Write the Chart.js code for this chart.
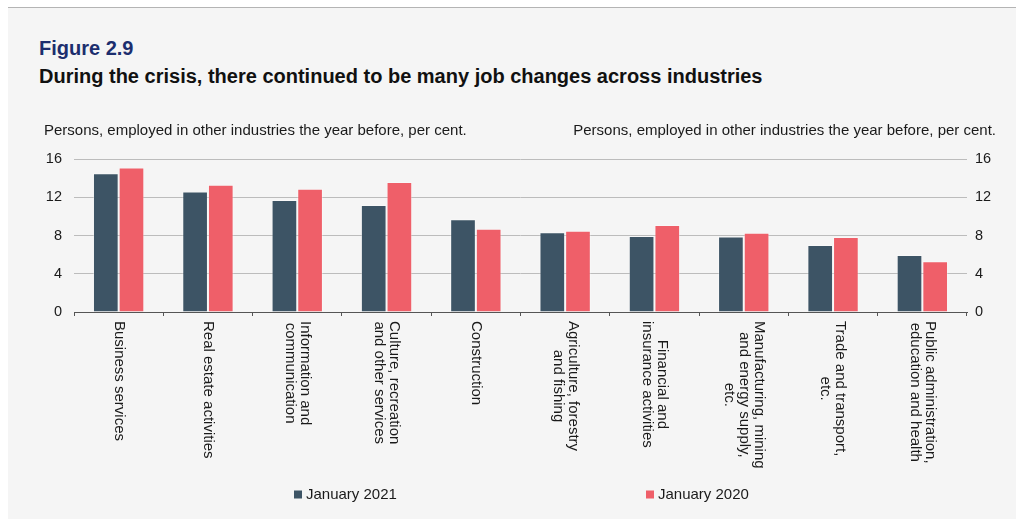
<!DOCTYPE html>
<html>
<head>
<meta charset="utf-8">
<script src="https://cdn.jsdelivr.net/npm/chart.js@4/dist/chart.umd.min.js"></script>
<style>
  html, body { margin: 0; padding: 0; background: #fff; }
  body { width: 1016px; height: 519px; position: relative; overflow: hidden; font-family: 'Liberation Sans', Arial, sans-serif; }
  #panel { position: absolute; left: 8px; top: 7px; right: 0; bottom: 0; background: #f5f5f5; border-top: 1px solid #b4b4b4; }
  .ttl { position: absolute; left: 39px; font-weight: bold; font-size: 20px; line-height: 22px; white-space: nowrap; }
  #fig { top: 37px; color: #1c2e6e; }
  #head { top: 65px; color: #111; }
  #chart { position: absolute; left: 0; top: 0; }
</style>
</head>
<body>
<div id="panel"></div>
<div class="ttl" id="fig">Figure 2.9</div>
<div class="ttl" id="head">During the crisis, there continued to be many job changes across industries</div>
<canvas id="chart" width="1016" height="519"></canvas>
<script>
(() => {
  'use strict';

  // industries, each label split into its printed lines
  const industries = [
    ['Business services'],
    ['Real estate activities'],
    ['Information and', 'communication'],
    ['Culture, recreation', 'and other services'],
    ['Construction'],
    ['Agriculture, forestry', 'and fishing'],
    ['Financial and', 'insurance activities'],
    ['Manufacturing, mining', 'and energy supply,', 'etc.'],
    ['Trade and transport,', 'etc.'],
    ['Public administration,', 'education and health']
  ];
  const jan2021 = [14.5, 12.6, 11.7, 11.2, 9.7, 8.35, 7.95, 7.9, 7.0, 5.95];
  const jan2020 = [15.1, 13.3, 12.9, 13.6, 8.7, 8.5, 9.1, 8.3, 7.85, 5.3];
  const seriesNames = ['January 2021', 'January 2020'];
  const yTicks = [0, 4, 8, 12, 16];
  const unitNote = 'Persons, employed in other industries the year before, per cent.';

  const FONT = "'Liberation Sans', Arial, sans-serif";
  const TEXT = '#1a1a1a';
  const DARK = '#3d5465';
  const RED = '#ef5f69';

  const yAxis = (position, width, padding, grid) => ({
    position,
    min: yTicks[0],
    max: yTicks[yTicks.length - 1],
    afterBuildTicks: s => { s.ticks = yTicks.map(v => ({value: v})); },
    afterFit: s => { s.width = width; },
    border: {display: false},
    grid: grid ? {color: '#bcbcbc', lineWidth: 1, drawTicks: false} : {display: false, drawTicks: false},
    ticks: {padding, color: TEXT, font: {family: FONT, size: 14.5}}
  });

  // unit notes above both axes, rotated category names, legend
  const decorations = {
    id: 'decorations',
    afterDraw(chart) {
      const {ctx} = chart;
      const x = chart.scales.x;
      ctx.save();
      ctx.fillStyle = TEXT;
      ctx.font = `15px ${FONT}`;
      ctx.textBaseline = 'alphabetic';
      ctx.textAlign = 'left';
      ctx.fillText(unitNote, 44, 135);
      ctx.textAlign = 'right';
      ctx.fillText(unitNote, 996, 135);

      const lh = 15;
      industries.forEach((lines, i) => {
        const px = x.getPixelForValue(i);
        const w = Math.max(...lines.map(l => ctx.measureText(l).width));
        ctx.save();
        ctx.translate(px, 321);
        ctx.rotate(Math.PI / 2);
        ctx.textAlign = 'center';
        ctx.textBaseline = 'middle';
        lines.forEach((l, j) => {
          ctx.fillText(l, w / 2, (j - (lines.length - 1) / 2) * lh);
        });
        ctx.restore();
      });

      const legendX = [294, 646];
      chart.data.datasets.forEach((ds, i) => {
        ctx.fillStyle = ds.backgroundColor;
        ctx.fillRect(legendX[i], 490.5, 8, 8);
        ctx.fillStyle = TEXT;
        ctx.textAlign = 'left';
        ctx.textBaseline = 'middle';
        ctx.fillText(ds.label, legendX[i] + 12, 495);
      });
      ctx.restore();
    }
  };

  new Chart(document.getElementById('chart').getContext('2d'), {
    type: 'bar',
    data: {
      labels: industries.map(l => l.join(' ')),
      datasets: [
        {label: seriesNames[0], data: jan2021, backgroundColor: DARK, borderColor: 'rgba(255,255,255,0.35)', borderWidth: 1},
        {label: seriesNames[1], data: jan2020, backgroundColor: RED, borderColor: 'rgba(255,255,255,0.35)', borderWidth: 1}
      ]
    },
    options: {
      responsive: false,
      devicePixelRatio: 1,
      animation: false,
      categoryPercentage: 0.575,
      barPercentage: 1,
      layout: {padding: {top: 159, left: 0, right: 0, bottom: 0}},
      plugins: {legend: {display: false}, tooltip: {enabled: false}},
      scales: {
        x: {
          offset: true,
          afterFit: s => { s.height = 207; },
          border: {display: true, color: '#555', width: 1},
          grid: {offset: true, drawOnChartArea: false, drawTicks: true, tickLength: 4, color: '#555'},
          ticks: {display: false}
        },
        y: yAxis('left', 74, 12, true),
        y2: yAxis('right', 49, 8, false)
      }
    },
    plugins: [decorations]
  });
})();
</script>
</body>
</html>
